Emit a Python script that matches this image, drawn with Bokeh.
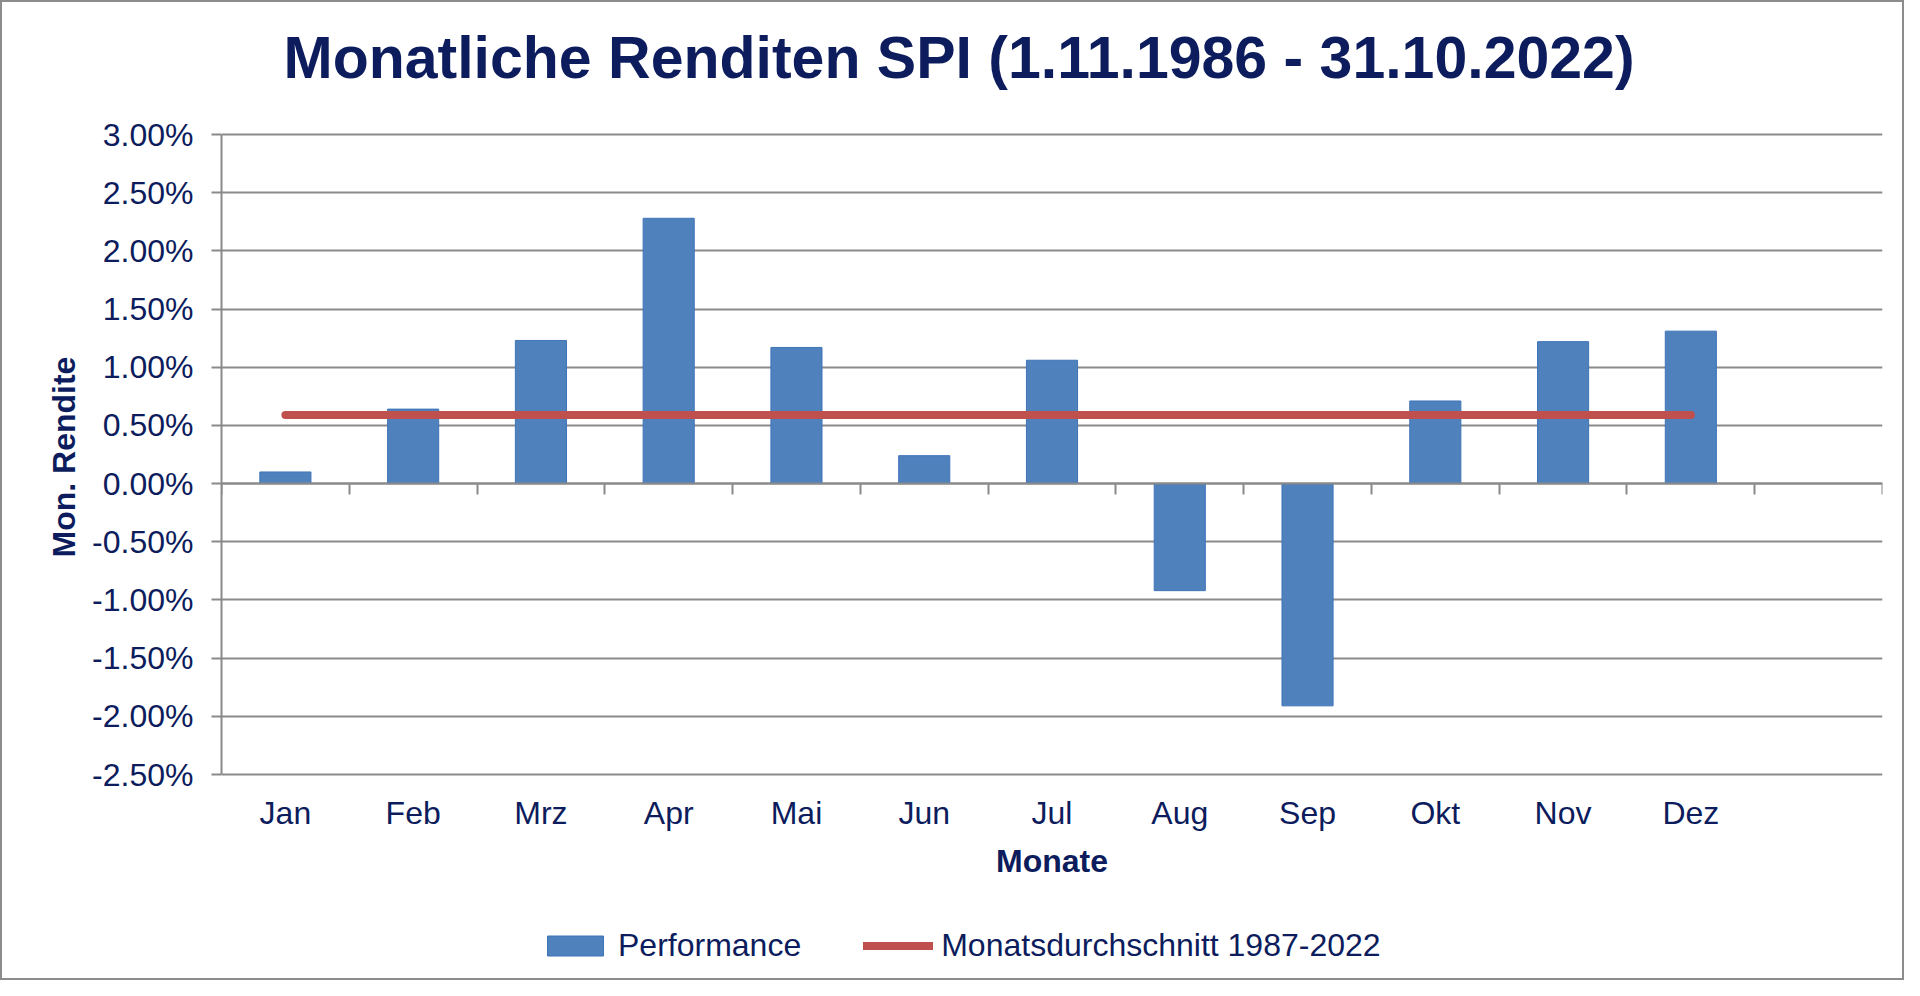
from bokeh.plotting import figure
from bokeh.models import (Range1d, LinearAxis, FixedTicker, PrintfTickFormatter,
                          Legend, LegendItem, ColumnDataSource, Title)
from bokeh.embed import file_html
from bokeh.resources import INLINE

# ---- data ----
months = ["Jan", "Feb", "Mrz", "Apr", "Mai", "Jun", "Jul", "Aug", "Sep", "Okt", "Nov", "Dez"]
performance = [0.10, 0.64, 1.23, 2.28, 1.17, 0.24, 1.06, -0.92, -1.91, 0.71, 1.22, 1.31]
average = 0.59
y_ticks = [-2.5, -2.0, -1.5, -1.0, -0.5, 0.0, 0.5, 1.0, 1.5, 2.0, 2.5, 3.0]
n_slots = 13  # one empty category slot at the end

TITLE = "Monatliche Renditen SPI (1.11.1986 - 31.10.2022)"
NAVY = "#0c1c5c"
GRID = "#8a8a8a"
FONT = "Liberation Sans"

# layout: value area is 640 px tall; the frame is extended a little above and
# 200 px below so that category labels, axis title and legend live inside it
VALUE_H = 640
EXTRA_TOP = 25
EXTRA_BOTTOM = 200
span = y_ticks[-1] - y_ticks[0]
y_lo = y_ticks[0] - span * EXTRA_BOTTOM / VALUE_H
y_hi = y_ticks[-1] + span * EXTRA_TOP / VALUE_H

centers = [i + 0.5 for i in range(len(months))]
src = ColumnDataSource(dict(x=centers, top=performance))
avg_src = ColumnDataSource(dict(x=centers, y=[average] * len(months)))

p = figure(frame_width=1661, frame_height=VALUE_H + EXTRA_TOP + EXTRA_BOTTOM,
           output_backend="svg", toolbar_location=None,
           x_range=Range1d(0, n_slots), y_range=Range1d(y_lo, y_hi),
           x_axis_type=None, y_axis_location="left",
           min_border_left=219, min_border_right=20, min_border_top=107, min_border_bottom=4)
p.styles = {"border": "2px solid #8c8c8c"}
p.outline_line_color = None
p.background_fill_color = "white"
p.border_fill_color = "white"

# title
p.title.text = TITLE
p.title.text_font = FONT
p.title.text_font_size = "59px"
p.title.text_font_style = "bold"
p.title.text_color = NAVY
p.title.align = "left"
p.title.offset = 62
p.title.standoff = 38

# y axis
ya = p.yaxis[0]
ya.ticker = FixedTicker(ticks=y_ticks)
ya.bounds = (y_ticks[0], y_ticks[-1])
ya.formatter = PrintfTickFormatter(format="%.2f%%")
ya.major_label_text_font = FONT
ya.major_label_text_font_size = "32px"
ya.major_label_text_color = NAVY
ya.major_label_standoff = 18
ya.major_tick_out = 10
ya.major_tick_in = 0
ya.major_tick_line_color = GRID
ya.major_tick_line_width = 2
ya.minor_tick_line_color = None
ya.axis_line_color = GRID
ya.axis_line_width = 2

ytitle = Title(text="Mon. Rendite", text_font=FONT, text_font_size="32px",
               text_font_style="bold", text_color=NAVY, align="left", offset=417,
               standoff=16)
p.add_layout(ytitle, "left")

p.ygrid.ticker = FixedTicker(ticks=y_ticks)
p.ygrid.grid_line_color = GRID
p.ygrid.grid_line_width = 2

# category labels axis, fixed at the bottom of the value area
xa = LinearAxis(fixed_location=y_ticks[0], ticker=FixedTicker(ticks=centers),
                major_label_overrides={c: m for c, m in zip(centers, months)})
xa.major_label_text_font = FONT
xa.major_label_text_font_size = "32px"
xa.major_label_text_color = NAVY
xa.major_label_standoff = 14
xa.major_tick_line_color = None
xa.minor_tick_line_color = None
xa.axis_line_color = None
xa.axis_label = "Monate"
xa.axis_label_text_font = FONT
xa.axis_label_text_font_size = "32px"
xa.axis_label_text_font_style = "bold"
xa.axis_label_text_color = NAVY
xa.axis_label_standoff = 9
p.add_layout(xa, "below")

# zero line axis with category boundary ticks
za = LinearAxis(fixed_location=0, ticker=FixedTicker(ticks=list(range(n_slots + 1))))
za.major_label_text_font_size = "0px"
za.major_label_overrides = {i: "" for i in range(n_slots + 1)}
za.major_tick_out = 11
za.major_tick_in = 0
za.major_tick_line_color = GRID
za.major_tick_line_width = 2
za.minor_tick_line_color = None
za.axis_line_color = GRID
za.axis_line_width = 2
p.add_layout(za, "below")

bars = p.vbar(x="x", top="top", bottom=0, width=0.4, source=src,
              fill_color="#4f81bd", line_color="#3f74b8", line_width=1)
avg_line = p.line(x="x", y="y", source=avg_src, line_color="#c0504d", line_width=8,
                  line_cap="round")

legend = Legend(items=[LegendItem(label="Performance", renderers=[bars]),
                       LegendItem(label="Monatsdurchschnitt 1987-2022", renderers=[avg_line])],
                orientation="horizontal", location=(319, 10))
legend.label_text_font = FONT
legend.label_text_font_size = "32px"
legend.label_text_color = NAVY
legend.glyph_width = 70
legend.glyph_height = 25
legend.label_standoff = 8
legend.spacing = 62
legend.padding = 0
legend.margin = 0
legend.border_line_color = None
legend.background_fill_alpha = 0
p.add_layout(legend, "center")

open("out.html", "w").write(file_html(p, INLINE))
